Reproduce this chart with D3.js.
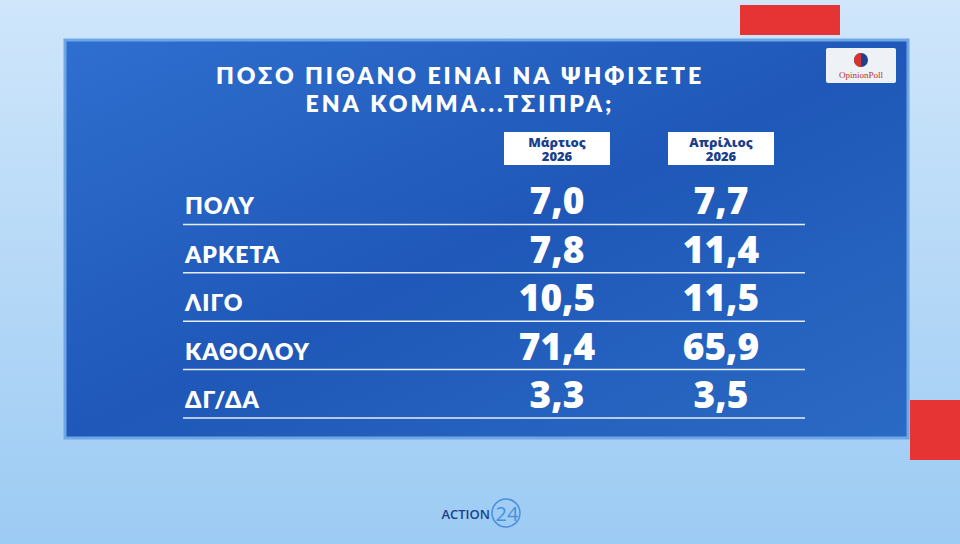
<!DOCTYPE html><html><head><meta charset="utf-8"><script src="https://cdn.jsdelivr.net/npm/d3@7"></script>
<style>body{margin:0;}svg{display:block;font-family:"Open Sans",sans-serif;}</style></head><body><svg id="c" width="960" height="544"></svg>
<script>
const categories=["ΠΟΛΥ","ΑΡΚΕΤΑ","ΛΙΓΟ","ΚΑΘΟΛΟΥ","ΔΓ/ΔΑ"];
const periods=[["Μάρτιος","2026"],["Απρίλιος","2026"]];
const march=[7.0,7.8,10.5,71.4,3.3];
const april=[7.7,11.4,11.5,65.9,3.5];
const series=[march,april];
const svg=d3.select("#c");
const defs=svg.append("defs");
const bg=defs.append("linearGradient").attr("id","bg").attr("x1",0).attr("y1",0).attr("x2",0).attr("y2",1);
bg.append("stop").attr("offset",0).attr("stop-color","#cfe6fb");
bg.append("stop").attr("offset",1).attr("stop-color","#9ccbf3");
const pg=defs.append("linearGradient").attr("id","pg").attr("x1",0).attr("y1",0).attr("x2",1).attr("y2",1);
pg.append("stop").attr("offset",0).attr("stop-color","#2f6fcf");
pg.append("stop").attr("offset",0.5).attr("stop-color","#1f58b8");
pg.append("stop").attr("offset",1).attr("stop-color","#2b6ac4");
svg.append("rect").attr("width",960).attr("height",544).attr("fill","url(#bg)");
svg.append("rect").attr("x",740).attr("y",5).attr("width",100).attr("height",30).attr("fill","#e63333");
svg.append("rect").attr("x",910).attr("y",400).attr("width",50).attr("height",60).attr("fill","#e63333");
svg.append("rect").attr("x",65).attr("y",40).attr("width",843).attr("height",398).attr("fill","url(#pg)").attr("stroke","#6fa6e6").attr("stroke-width",3);
const t=svg.append("text").attr("text-anchor","middle").attr("fill","#fff").attr("font-weight",800).attr("font-size",23).attr("letter-spacing",3).attr("font-family","Lato, sans-serif");
t.append("tspan").attr("x",460).attr("y",84).text("ΠΟΣΟ  ΠΙΘΑΝΟ  ΕΙΝΑΙ  ΝΑ  ΨΗΦΙΣΕΤΕ");
t.append("tspan").attr("x",460).attr("y",112).text("ΕΝΑ  ΚΟΜΜΑ...ΤΣΙΠΡΑ;");
svg.append("rect").attr("x",826).attr("y",48).attr("width",70).attr("height",35).attr("fill","#eef2f7").attr("rx",2);
svg.append("circle").attr("cx",861).attr("cy",60).attr("r",7).attr("fill","#1f3f8f");
svg.append("path").attr("d","M861,53 A7,7 0 0 0 861,67 Z").attr("fill","#d9342b");
svg.append("text").attr("x",861).attr("y",78).attr("text-anchor","middle").attr("font-size",9).attr("fill","#b2332b").attr("font-family","Liberation Serif, serif").text("OpinionPoll");
const x=d3.scalePoint().domain([0,1]).range([557,721]);
const y=d3.scaleBand().domain(categories).range([178,420]).padding(0);
periods.forEach((p,i)=>{
  svg.append("rect").attr("x",x(i)-53).attr("y",132).attr("width",106).attr("height",33).attr("fill","#fff");
  const h=svg.append("text").attr("text-anchor","middle").attr("fill","#1a3f8c").attr("font-weight",800).attr("font-size",13);
  h.append("tspan").attr("x",x(i)).attr("y",147).text(p[0]);
  h.append("tspan").attr("x",x(i)).attr("y",161).text(p[1]);
});
categories.forEach((c,j)=>{
  const yb=y(c)+y.bandwidth();
  svg.append("line").attr("x1",183).attr("x2",805).attr("y1",yb-2).attr("y2",yb-2).attr("stroke","#e6eefa").attr("stroke-width",1.5);
  svg.append("text").attr("x",185).attr("y",yb-12).attr("fill","#fff").attr("font-weight",800).attr("font-size",23).attr("font-family","Lato, sans-serif").attr("letter-spacing",1).text(c);
  series.forEach((s,i)=>{
    svg.append("text").attr("x",x(i)).attr("y",yb-12).attr("text-anchor","middle").attr("fill","#fff").attr("font-weight",800).attr("font-size",37).text(d3.format(".1f")(s[j]).replace(".",","));
  });
});
svg.append("text").attr("x",490).attr("y",519).attr("text-anchor","end").attr("fill","#1a3f8c").attr("font-size",13).attr("font-weight",600).text("ACTION");
svg.append("circle").attr("cx",506).attr("cy",513).attr("r",14).attr("fill","none").attr("stroke","#4a8fe0").attr("stroke-width",1.5);
svg.append("text").attr("x",507).attr("y",521).attr("text-anchor","middle").attr("fill","#4a8fe0").attr("font-size",20).text("24");
</script></body></html>
